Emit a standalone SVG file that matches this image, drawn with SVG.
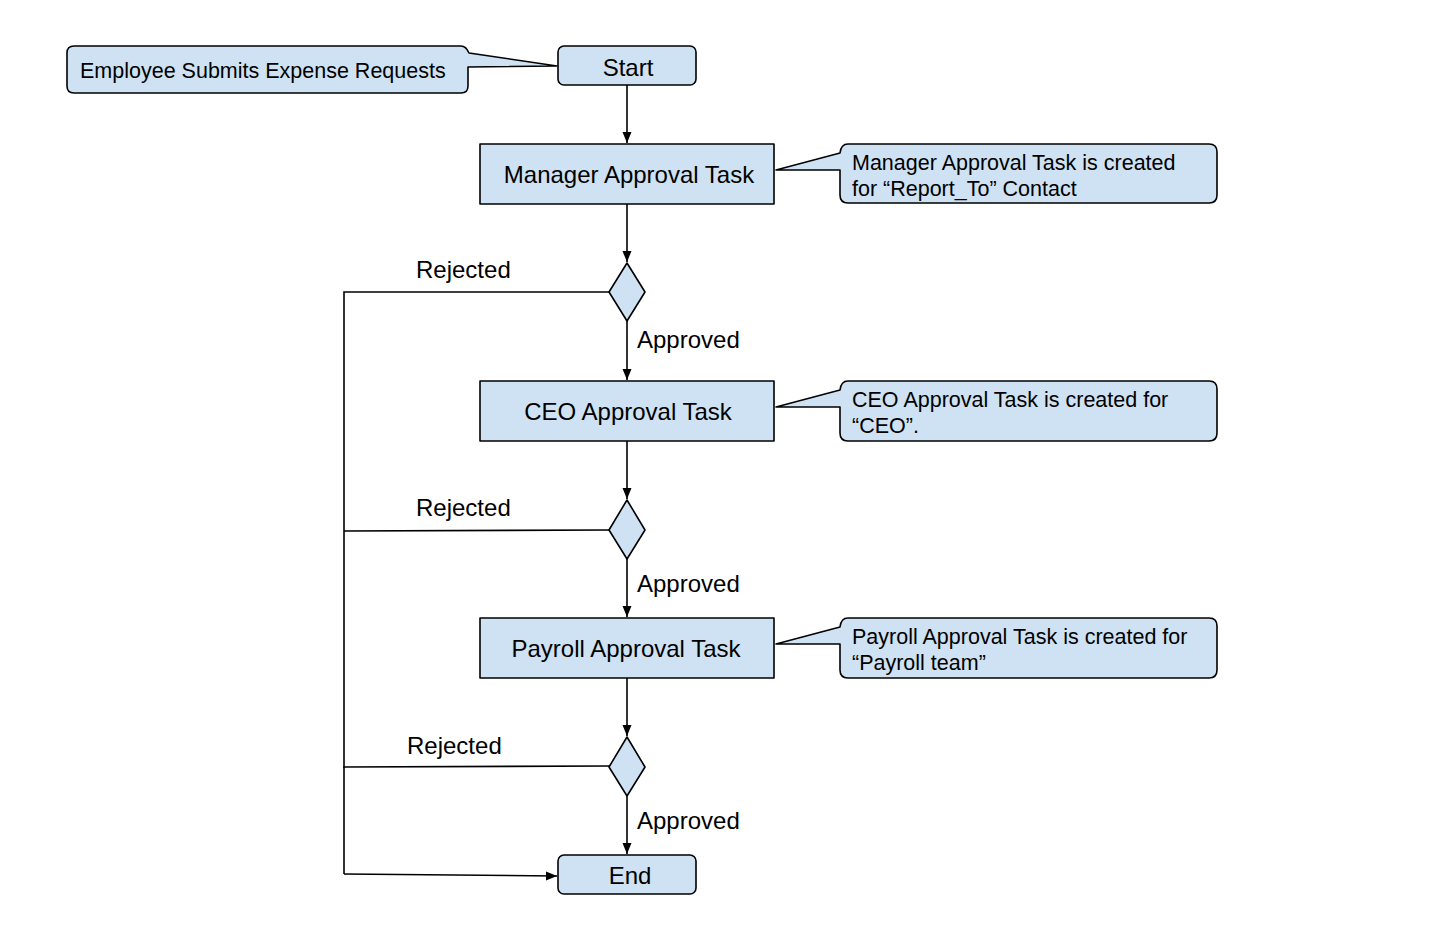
<svg xmlns="http://www.w3.org/2000/svg" width="1432" height="931" viewBox="0 0 1432 931">
<defs>
<style>
.shape{fill:#cfe2f3;stroke:#000;stroke-width:1.6;stroke-linejoin:round}
.edge{fill:none;stroke:#000;stroke-width:1.6}
.t{font-family:"Liberation Sans",Arial,sans-serif;font-size:24px;fill:#000}
.c{font-family:"Liberation Sans",Arial,sans-serif;font-size:21.5px;fill:#000}
</style>
<marker id="arr" markerWidth="12" markerHeight="10" refX="11" refY="4.5" orient="auto" markerUnits="userSpaceOnUse">
<path d="M0,0 L11,4.5 L0,9 Z" fill="#000"/>
</marker>
</defs>
<rect width="1432" height="931" fill="#fff"/>
<g id="connectors">
<line class="edge" x1="627" y1="85" x2="627" y2="143" marker-end="url(#arr)"/>
<line class="edge" x1="627" y1="204" x2="627" y2="262" marker-end="url(#arr)"/>
<line class="edge" x1="627" y1="321" x2="627" y2="380" marker-end="url(#arr)"/>
<line class="edge" x1="627" y1="441" x2="627" y2="499" marker-end="url(#arr)"/>
<line class="edge" x1="627" y1="559" x2="627" y2="617" marker-end="url(#arr)"/>
<line class="edge" x1="627" y1="678" x2="627" y2="736" marker-end="url(#arr)"/>
<line class="edge" x1="627" y1="796" x2="627" y2="854" marker-end="url(#arr)"/>
<polyline class="edge" points="609,292 344,292 344,874"/>
<line class="edge" x1="609" y1="530" x2="344" y2="531"/>
<line class="edge" x1="609" y1="766" x2="343" y2="767"/>
<line class="edge" x1="344" y1="874" x2="557" y2="876" marker-end="url(#arr)"/>
<text class="t" x="416" y="278">Rejected</text>
<text class="t" x="637" y="348">Approved</text>
<text class="t" x="416" y="516">Rejected</text>
<text class="t" x="637" y="592">Approved</text>
<text class="t" x="407" y="754">Rejected</text>
<text class="t" x="637" y="829">Approved</text>
</g>
<g id="note-employee">
<path class="shape" d="M74,46 H461 Q466,46 469,53 L557,66 L468,67 V86 Q468,93 461,93 H74 Q67,93 67,86 V53 Q67,46 74,46 Z"/>
<text class="c" x="80" y="77.5">Employee Submits Expense Requests</text>
</g>
<g id="start">
<rect class="shape" x="558" y="46" width="138" height="39" rx="6"/>
<text class="t" x="628" y="76" text-anchor="middle">Start</text>
</g>
<g id="manager">
<rect class="shape" x="480" y="144" width="294" height="60"/>
<text class="t" x="629" y="183" text-anchor="middle">Manager Approval Task</text>
</g>
<g id="note-manager">
<path class="shape" d="M848,144 H1209 Q1217,144 1217,152 V195 Q1217,203 1209,203 H848 Q840,203 840,195 V170 L776,170 L840,153 Q841,144 848,144 Z"/>
<text class="c" x="852" y="169.5">Manager Approval Task is created</text>
<text class="c" x="852" y="195.5">for “Report_To” Contact</text>
</g>
<g id="decision1">
<polygon class="shape" points="627,263 645,292 627,321 609,292"/>
</g>
<g id="ceo">
<rect class="shape" x="480" y="381" width="294" height="60"/>
<text class="t" x="628" y="420" text-anchor="middle">CEO Approval Task</text>
</g>
<g id="note-ceo">
<path class="shape" d="M848,381 H1209 Q1217,381 1217,389 V433 Q1217,441 1209,441 H848 Q840,441 840,433 V407 L776,407 L840,390 Q841,381 848,381 Z"/>
<text class="c" x="852" y="406.5">CEO Approval Task is created for</text>
<text class="c" x="852" y="432.5">“CEO”.</text>
</g>
<g id="decision2">
<polygon class="shape" points="627,500 645,530 627,559 609,530"/>
</g>
<g id="payroll">
<rect class="shape" x="480" y="618" width="294" height="60"/>
<text class="t" x="626" y="657" text-anchor="middle">Payroll Approval Task</text>
</g>
<g id="note-payroll">
<path class="shape" d="M848,618 H1209 Q1217,618 1217,626 V670 Q1217,678 1209,678 H848 Q840,678 840,670 V644 L776,644 L840,627 Q841,618 848,618 Z"/>
<text class="c" x="852" y="643.5">Payroll Approval Task is created for</text>
<text class="c" x="852" y="669.5">“Payroll team”</text>
</g>
<g id="decision3">
<polygon class="shape" points="627,737 645,767 627,796 609,767"/>
</g>
<g id="end">
<rect class="shape" x="558" y="855" width="138" height="39" rx="6"/>
<text class="t" x="630" y="884" text-anchor="middle">End</text>
</g>
</svg>
